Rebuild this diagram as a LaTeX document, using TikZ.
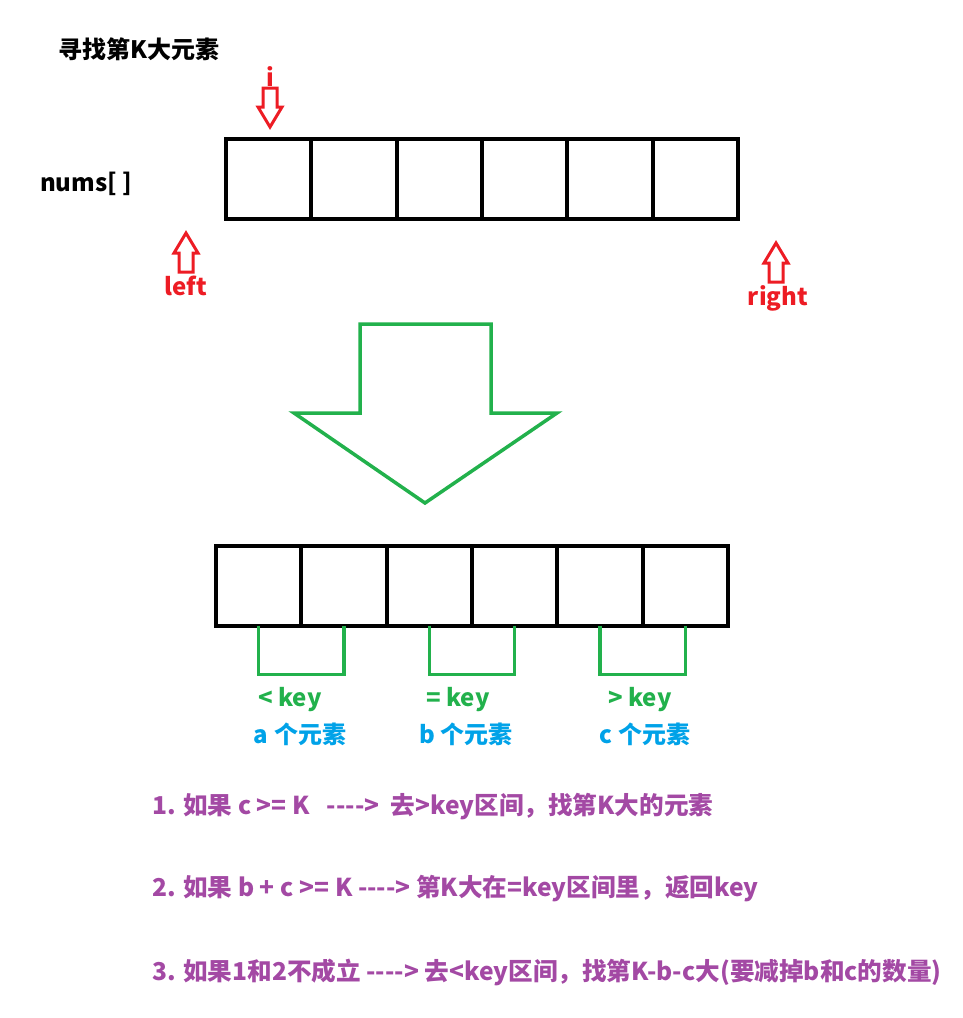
\documentclass[tikz,border=0pt]{standalone}
\usepackage{fontspec}
\setmainfont{Noto Sans CJK SC}
\usetikzlibrary{positioning}
\definecolor{pred}{HTML}{ED1C24}
\definecolor{pgreen}{HTML}{22B14C}
\definecolor{pblue}{HTML}{00A2E8}
\definecolor{ppurple}{HTML}{A349A4}
\tikzset{
  cell/.style={draw, line width=4pt, minimum width=85.33pt, minimum height=80pt, inner sep=0pt, outer sep=0pt},
  bracket/.style={draw=pgreen, line width=3.5pt},
  lbl/.style={font=\bfseries\fontsize{24}{24}\selectfont, inner sep=0pt},
  rule/.style={font=\bfseries\fontsize{24.6}{24.6}\selectfont, inner sep=0pt, text=ppurple, anchor=west},
  hollowup/.pic={\draw[pred, line width=3pt] (0,0) -- (12,20) -- (7,20) -- (7,39) -- (-7,39) -- (-7,20) -- (-12,20) -- cycle;}
}
\begin{document}
\begin{tikzpicture}[x=1pt, y=-1pt]
  \useasboundingbox (0,0) rectangle (963,1018);
  \node (title) [lbl, anchor=west] at (58,49) {寻找第K大元素};
  \node (nums) [lbl, anchor=west] at (40,184) {nums[ ]};

  % array before partition
  \node (t1) [cell] at (268.67,179) {};
  \foreach \i [count=\j from 2] in {1,...,5}
    \node (t\j) [cell, right=0pt of t\i] {};

  \node (i) [lbl, text=pred] at (270,77) {i};
  \pic[rotate=180] at (270,127) {hollowup};
  \pic at (186,233) {hollowup};
  \node (left) [lbl, text=pred] at (186,286) {left};
  \pic at (776,243) {hollowup};
  \node (right) [lbl, text=pred] at (778,298) {right};

  % big arrow
  \draw [pgreen, line width=3.5pt] (360,324) -- (491,324) -- (491,413) -- (557,413)
    -- (425,503) -- (294,413) -- (360,413) -- cycle;

  % array after partition
  \node (b1) [cell] at (258.67,585.5) {};
  \foreach \i [count=\j from 2] in {1,...,5}
    \node (b\j) [cell, right=0pt of b\i] {};

  \draw [bracket] (b1.south) -- ++(0,49) -| (b2.south);
  \draw [bracket] (b3.south) -- ++(0,49) -| (b4.south);
  \draw [bracket] (b5.south) -- ++(0,49) -| (b6.south);

  \node (less) [lbl, text=pgreen] at (290,700) {<\ key};
  \node (equal) [lbl, text=pgreen] at (458,700) {=\ key};
  \node (greater) [lbl, text=pgreen] at (640,700) {>\ key};
  \node (na) [lbl, text=pblue] at (300,734) {a 个元素};
  \node (nb) [lbl, text=pblue] at (466,734) {b 个元素};
  \node (nc) [lbl, text=pblue] at (645,734) {c 个元素};

  % rules
  \node (r1) [rule] at (152,807) {1. 如果 c >= K \ \ -{}-{}-{}->\ \ 去>key区间，找第K大的元素};
  \node (r2) [rule] at (152,889) {2. 如果 b + c >= K -{}-{}-{}-> 第K大在=key区间里，返回key};
  \node (r3) [rule] at (152,972) {3. 如果1和2不成立 -{}-{}-{}-> 去<key区间，找第K-b-c大(要减掉b和c的数量)};
\end{tikzpicture}
\end{document}
